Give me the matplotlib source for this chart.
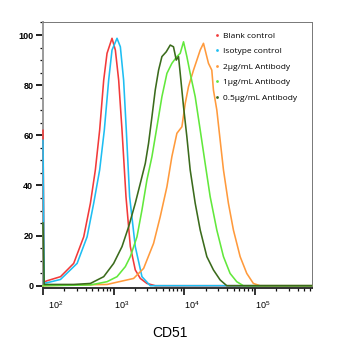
import matplotlib
matplotlib.use("Agg")
import matplotlib.pyplot as plt
import matplotlib.transforms as mtransforms
from matplotlib.ticker import LogLocator, MultipleLocator, NullFormatter, FixedLocator
from matplotlib.lines import Line2D

plt.rcParams['font.family'] = ['Liberation Sans', 'DejaVu Sans']
plt.rcParams['mathtext.default'] = 'regular'

# ---------------- data ----------------
series_names = ["Blank control", "Isotype control", "2\u03bcg/mL Antibody",
                "1\u03bcg/mL Antibody", "0.5\u03bcg/mL Antibody"]
series_colors = ["#f23a3a", "#1ebef2", "#ff9a3c", "#62e83c", "#3b6b1c"]

blank_x = [100, 104, 115, 177, 272, 377, 469, 551, 634, 723, 806, 948, 1057, 1178,
           1313, 1495, 1722, 2023, 2382, 2958, 3881, 630000]
blank_y = [62, 1.5, 2.0, 3.6, 8.9, 19.5, 32.9, 46.2, 62.1, 82.0, 92.7, 98.7, 94.0, 82.0,
           62.1, 35.5, 15.6, 6.3, 2.9, 0.9, 0, 0]

iso_x = [100, 104, 115, 177, 304, 421, 522, 634, 738, 850, 948, 1116, 1244, 1384,
         1510, 1683, 2023, 2516, 3296, 630000]
iso_y = [58, 1.0, 1.2, 2.5, 8.9, 19.5, 32.9, 46.2, 62.1, 82.0, 94.0, 98.7, 95.3, 82.0,
         62.1, 35.5, 15.6, 3.6, 0, 0]

ab2_x = [100, 272, 806, 1916, 2655, 3673, 4560, 5675, 6668, 7852, 9247, 10300, 11460,
         13490, 15060, 16790, 18670, 19720, 21980, 24490, 25820, 28840, 32140, 35810,
         42070, 49550, 61660, 76560, 94840, 118000, 630000]
ab2_y = [0, 0.3, 0.5, 2.9, 6.9, 16.9, 27.5, 39.5, 51.5, 60.8, 63.4, 72.7, 79.4,
         86.0, 90.0, 94.0, 96.7, 94.0, 88.7, 86.0, 78.1, 70.1, 58.1, 46.2,
         32.9, 22.2, 11.6, 4.9, 0.9, 0, 0]

ab1_x = [100, 469, 806, 1116, 1462, 1722, 2138, 2516, 2958, 3483, 4100, 4820, 5675,
         6668, 7852, 8750, 9750, 10870, 12110, 14260, 16790, 19720, 23230, 28840,
         35810, 44460, 55210, 68550, 630000]
ab1_y = [0, 0.3, 1.6, 3.6, 7.6, 11.6, 19.5, 30.2, 42.2, 51.5, 63.4, 75.4, 84.7,
         88.7, 91.4, 92.7, 97.3, 91.4, 84.7, 75.4, 62.1, 48.8, 35.5, 22.2,
         11.6, 4.9, 1.6, 0, 0]

ab05_x = [100, 104, 115, 272, 469, 723, 1000, 1313, 1629, 2023, 2382, 2805, 3119, 3483,
          3881, 4325, 4820, 5546, 6324, 7031, 7691, 8279, 8750, 9750, 10870, 12110,
          14260, 16790, 20840, 25820, 32140, 39900, 630000]
ab05_y = [25, 0.5, 0.5, 0.5, 0.9, 3.6, 8.9, 15.6, 23.5, 32.9, 40.8, 48.8, 56.8, 67.4,
          78.1, 86.0, 91.4, 93.3, 96.0, 95.3, 90.0, 91.4, 84.7, 71.4, 59.4, 46.2,
          32.9, 22.2, 11.6, 6.3, 2.3, 0, 0]

xtick_values = [1e2, 1e3, 1e4, 1e5]
xtick_labels = ["$10^{2}$", "$10^{3}$", "$10^{4}$", "$10^{5}$"]
ytick_values = [0, 20, 40, 60, 80, 100]
x_label = "CD51"

# ---------------- figure ----------------
fig = plt.figure(figsize=(3.45, 3.6), dpi=100)
ax = fig.add_axes([0.1246, 0.2008, 0.7783, 0.7381])

all_x = [blank_x, iso_x, ab2_x, ab1_x, ab05_x]
all_y = [blank_y, iso_y, ab2_y, ab1_y, ab05_y]
for xs, ys, c in zip(all_x, all_y, series_colors):
    ax.plot(xs, ys, color=c, lw=1.15, solid_joinstyle='round', zorder=3, clip_on=False)

ax.set_xscale('log')
ax.set_xlim(100, 10 ** 5.8)
ax.set_ylim(-0.8, 105.2)

ax.xaxis.set_major_locator(FixedLocator(xtick_values))
ax.set_xticklabels(xtick_labels)
ax.xaxis.set_minor_locator(LogLocator(base=10, subs=range(2, 10), numticks=20))
ax.xaxis.set_minor_formatter(NullFormatter())
ax.set_yticks(ytick_values)
ax.yaxis.set_minor_locator(MultipleLocator(5))

ax.tick_params(axis='x', which='major', length=5, width=1.2, pad=3.5, labelsize=6.5, color='#111111')
ax.tick_params(axis='x', which='minor', length=2.3, width=0.9, color='#111111')
ax.tick_params(axis='y', which='major', length=5, width=1.3, pad=2, labelsize=6.5, color='#111111')
ax.tick_params(axis='y', which='minor', length=2.3, width=0.9, color='#111111')
for lab in ax.get_yticklabels():
    lab.set_fontweight('bold')

for i, lab in enumerate(ax.get_xticklabels()):
    lab.set_horizontalalignment('left')
    dx = 5 if i == 0 else 0
    lab.set_transform(lab.get_transform() + mtransforms.ScaledTranslation(dx / 100, 0, fig.dpi_scale_trans))

ax.spines['left'].set_color('#9a9a9a')
ax.spines['left'].set_linewidth(1.4)
ax.spines['bottom'].set_color('#222222')
ax.spines['bottom'].set_linewidth(1.3)
for s in ['top', 'right']:
    ax.spines[s].set_color('#777777')
    ax.spines[s].set_linewidth(0.7)

fig.text(170 / 345, 1 - 333 / 360, x_label, ha='center', va='center', fontsize=10)

handles = [Line2D([], [], ls='none', marker='o', markersize=2, color=c, markeredgewidth=0)
           for c in series_colors]
leg = ax.legend(handles, series_names, loc='upper left', bbox_to_anchor=(0.616, 0.985),
                frameon=False, prop={'family': 'Open Sans', 'size': 6},
                handlelength=0.6, handletextpad=0.4, labelspacing=0.93, borderaxespad=0.3)

fig.savefig("out.png", dpi=100)
